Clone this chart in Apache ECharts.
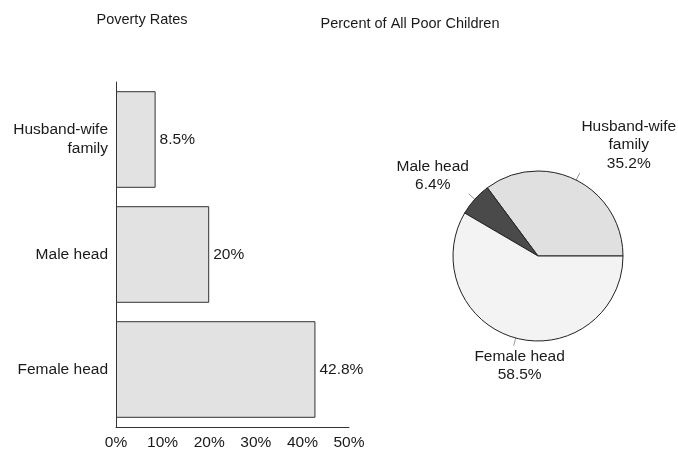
<!DOCTYPE html>
<html>
<head>
<meta charset="utf-8">
<style>
  html, body { margin: 0; padding: 0; background: #ffffff; }
  #chart { width: 678px; height: 451px; }
</style>
<script src="https://cdn.jsdelivr.net/npm/echarts@6/dist/echarts.min.js"></script>
</head>
<body>
<div id="chart"></div>
<script>
// Family types (bar chart, top to bottom)
const barCategories = ['Husband-wife\nfamily', 'Male head', 'Female head'];
// Poverty rate of children by family type, percent
const povertyRates = [8.5, 20, 42.8];
// Value-axis tick range, percent
const rateAxisMin = 0;
const rateAxisMax = 50;
const rateAxisStep = 10;

// Share of all poor children by family type (pie chart)
const shareNames = ['Husband-wife\nfamily', 'Male head', 'Female head'];
const shareValues = [35.2, 6.4, 58.5];

const FONT = '"Liberation Sans", Arial, Helvetica, sans-serif';
const INK = '#1a1a1a';
const sliceColors = ['#e0e0e0', '#4a4a4a', '#f3f3f3'];
// Label placement relative to the end of each short leader tick
const pieLabelOffsets = [[49, -28], [-36, -18], [6, 20]];

const chart = echarts.init(document.getElementById('chart'), null, { renderer: 'canvas' });

chart.setOption({
  animation: false,
  backgroundColor: '#ffffff',
  textStyle: { fontFamily: FONT, color: INK },
  title: [
    {
      text: 'Poverty Rates',
      left: 137, top: 7, textAlign: 'center',
      textStyle: { fontFamily: FONT, fontSize: 14.5, fontWeight: 'normal', color: INK }
    },
    {
      text: 'Percent of All Poor Children',
      left: 405, top: 11, textAlign: 'center',
      textStyle: { fontFamily: FONT, fontSize: 14.5, fontWeight: 'normal', color: INK }
    }
  ],
  grid: { left: 116, top: 82, width: 233, height: 345, containLabel: false },
  xAxis: {
    type: 'value',
    min: rateAxisMin, max: rateAxisMax, interval: rateAxisStep,
    axisLine: { show: true, lineStyle: { color: '#333', width: 1 } },
    axisTick: { show: false },
    splitLine: { show: false },
    axisLabel: {
      formatter: '{value}%', margin: 8,
      fontFamily: FONT, fontSize: 15.5, color: INK
    }
  },
  yAxis: {
    type: 'category',
    inverse: true,
    data: barCategories,
    axisLine: { show: true, lineStyle: { color: '#333', width: 1 } },
    axisTick: { show: false },
    axisLabel: {
      margin: 8, fontFamily: FONT, fontSize: 15.5, color: INK,
      lineHeight: 19, align: 'right'
    }
  },
  series: [
    {
      type: 'bar',
      data: povertyRates,
      barCategoryGap: '16%',
      itemStyle: { color: '#e2e2e2', borderColor: '#333', borderWidth: 1 },
      label: {
        show: true, position: 'right', distance: 4,
        formatter: function (p) { return p.value + '%'; },
        fontFamily: FONT, fontSize: 15.5, color: INK
      }
    },
    {
      type: 'pie',
      center: [538, 256],
      radius: 85,
      startAngle: 0,
      clockwise: false,
      avoidLabelOverlap: false,
      data: shareNames.map(function (n, i) {
        return { name: n, value: shareValues[i], itemStyle: { color: sliceColors[i] } };
      }),
      itemStyle: { borderColor: '#222', borderWidth: 1 },
      label: {
        show: true, position: 'outside',
        formatter: function (p) { return p.name + '\n' + p.value + '%'; },
        fontFamily: FONT, fontSize: 15.5, color: INK, lineHeight: 18.5
      },
      labelLine: {
        show: true, length: 8, length2: 0,
        lineStyle: { color: '#999', width: 1 }
      },
      labelLayout: function (p) {
        const pts = p.labelLinePoints;
        const end = pts[pts.length - 1];
        const off = pieLabelOffsets[p.dataIndex];
        return {
          x: end[0] + off[0], y: end[1] + off[1],
          align: 'center', verticalAlign: 'middle',
          labelLinePoints: pts
        };
      },
      emphasis: { disabled: true }
    }
  ]
});
</script>
</body>
</html>
